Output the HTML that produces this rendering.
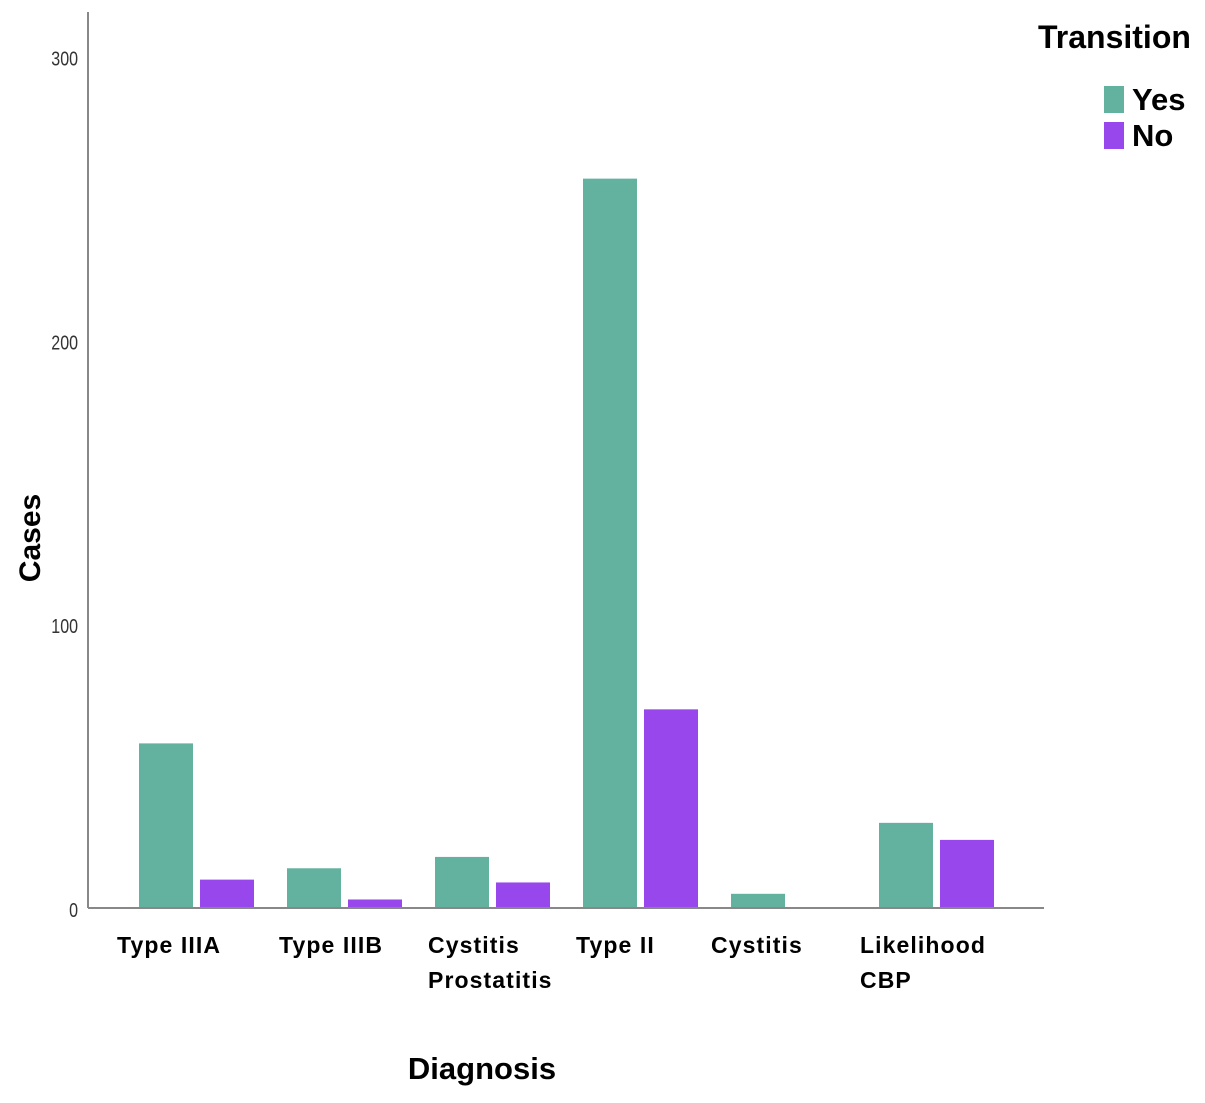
<!DOCTYPE html>
<html><head><meta charset="utf-8"><style>
body{margin:0;background:#fff;}
svg text{font-family:"Liberation Sans",sans-serif;}
</style></head><body>
<svg width="1205" height="1098">
<g id="bars"></g>
<line x1="88" y1="12" x2="88" y2="908" stroke="#888" stroke-width="2"/>
<line x1="88" y1="908" x2="1044" y2="908" stroke="#888" stroke-width="2"/>
<g id="yticks"></g>
<g id="xlabels"></g>
<text x="40" y="538" font-size="30" font-weight="bold" transform="rotate(-90 40 538)" text-anchor="middle">Cases</text>
<text x="482" y="1079" font-size="31" font-weight="bold" text-anchor="middle">Diagnosis</text>
<text x="1038" y="48" font-size="32" font-weight="bold">Transition</text>
<rect x="1104" y="86" width="20" height="27" fill="#63b29f"/>
<text x="1132" y="110" font-size="31" font-weight="bold">Yes</text>
<rect x="1104" y="122" width="20" height="27" fill="#9747ec"/>
<text x="1132" y="146" font-size="31" font-weight="bold">No</text>
</svg>
<script>
const categories=[["Type IIIA"],["Type IIIB"],["Cystitis","Prostatitis"],["Type II"],["Cystitis"],["Likelihood","CBP"]];
const yesValues=[58,14,18,257,5,30];
const noValues=[10,3,9,70,0,24];
const yTicks=[0,100,200,300];
const ns="http://www.w3.org/2000/svg";
function y(v){return 908-v*2.838;}
function gx(i){return 139+i*148;}
const bars=document.getElementById('bars');
function mk(tag,attrs,parent){const e=document.createElementNS(ns,tag);for(const k in attrs)e.setAttribute(k,attrs[k]);parent.appendChild(e);return e;}
categories.forEach((c,i)=>{
  if(yesValues[i]>0){const r=mk('rect',{x:gx(i),y:y(yesValues[i]),width:54,height:908-y(yesValues[i]),fill:'#63b29f'},bars);
  
  }
  if(noValues[i]>0){const r=mk('rect',{x:gx(i)+61,y:y(noValues[i]),width:54,height:908-y(noValues[i]),fill:'#9747ec'},bars);
  
  }
  const lx=[117,279,428,576,711,860][i];
  c.forEach((line,j)=>{const t=mk('text',{x:lx,y:953+j*35,'font-size':23,'font-weight':'bold','letter-spacing':'1.1'},document.getElementById('xlabels'));t.textContent=line;
  
  });
});
yTicks.forEach(v=>{const t=mk('text',{x:78,y:y(v)+9,'font-size':20,'text-anchor':'end',fill:'#333',transform:'scale(0.8,1)','transform-origin':'78 '+y(v)},document.getElementById('yticks'));t.textContent=v;

});
</script>
</body></html>
